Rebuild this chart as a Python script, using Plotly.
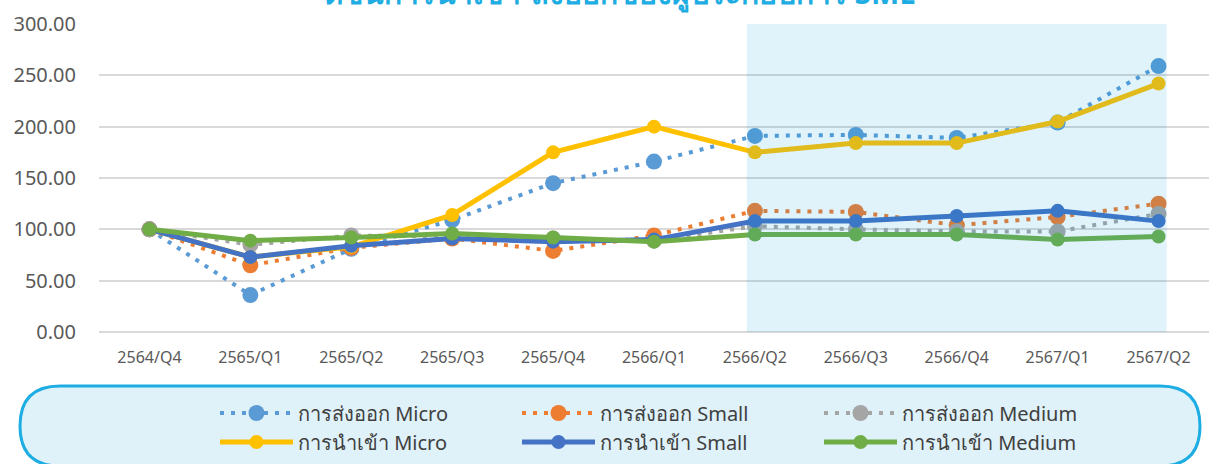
import plotly.graph_objects as go

categories = ["2564/Q4", "2565/Q1", "2565/Q2", "2565/Q3", "2565/Q4", "2566/Q1",
              "2566/Q2", "2566/Q3", "2566/Q4", "2567/Q1", "2567/Q2"]

export_micro = [100, 36, 81, 109, 145, 166, 191, 192, 189, 204, 259]
export_small = [100, 65, 82, 91, 79, 94, 118, 117, 104, 112, 125]
export_medium = [100, 85, 94, 93, 91, 89, 103, 100, 98, 98, 115]
import_micro = [100, 73, 83, 114, 175, 200, 175, 184, 184, 205, 242]
import_small = [100, 73, 84, 91, 88, 90, 108, 108, 113, 118, 108]
import_medium = [100, 89, 92, 96, 92, 88, 95, 95, 95, 90, 93]

series_names = ["การส่งออก Micro", "การส่งออก Small", "การส่งออก Medium",
                "การนำเข้า Micro", "การนำเข้า Small", "การนำเข้า Medium"]
series_values = [export_micro, export_small, export_medium,
                 import_micro, import_small, import_medium]
colors = ["#5B9BD5", "#ED7D31", "#A5A5A5", "#FFC000", "#4472C4", "#70AD47"]
dashes = ["4px,7px", "4px,7px", "4px,7px", "solid", "solid", "solid"]
widths = [4, 4, 4, 5, 5, 5]
msizes = [16, 16, 16, 14, 14, 14]
legend_ids = ["legend", "legend", "legend", "legend2", "legend2", "legend2"]

title_text = "ดัชนีการนำเข้า-ส่งออกของผู้ประกอบการ SME"

FONT = "Noto Sans, DejaVu Sans, sans-serif"

fig = go.Figure()
for name, vals, c, d, w, ms, lg in zip(series_names, series_values, colors, dashes,
                                        widths, msizes, legend_ids):
    fig.add_trace(go.Scatter(
        x=categories, y=vals, name=name, mode="lines+markers",
        line=dict(color=c, width=w, dash=d),
        marker=dict(color=c, size=ms), legend=lg,
    ))

W, H = 1209, 464
L, R, T, B = 99, 0, 24, 132
pw, ph = W - L - R, H - T - B

def px(x):
    return (x - L) / pw

def py(y):
    return (H - B - y) / ph

# legend pill box
x0, x1, y0, y1, r = 20, 1200, 386, 466, 40
path = (f"M {px(x0 + r)},{py(y0)} L {px(x1 - r)},{py(y0)} "
        f"Q {px(x1)},{py(y0)} {px(x1)},{py(y0 + r)} "
        f"Q {px(x1)},{py(y1)} {px(x1 - r)},{py(y1)} "
        f"L {px(x0 + r)},{py(y1)} "
        f"Q {px(x0)},{py(y1)} {px(x0)},{py(y0 + r)} "
        f"Q {px(x0)},{py(y0)} {px(x0 + r)},{py(y0)} Z")
fig.add_shape(type="path", path=path, xref="paper", yref="paper",
              fillcolor="#DFF1F9", line=dict(color="#1EADE3", width=3), layer="below")

# highlighted period
fig.add_shape(type="rect", xref="x", yref="y", x0=5.92, x1=10.08, y0=0, y1=300,
              fillcolor="rgba(0,160,220,0.12)", line=dict(width=0), layer="above")

fig.add_annotation(text="<b>" + title_text + "</b>", xref="paper", yref="paper",
                   x=px(620), y=py(15), xanchor="center", yanchor="bottom",
                   showarrow=False, font=dict(size=30, color="#1EADE3", family=FONT))

legend_common = dict(orientation="h", xref="container", yref="container",
                     x=215 / W, xanchor="left", yanchor="middle",
                     bgcolor="rgba(0,0,0,0)", entrywidth=214, entrywidthmode="pixels",
                     itemwidth=73, font=dict(size=20, color="#404040", family=FONT))

fig.update_layout(
    width=W, height=H,
    margin=dict(l=L, r=R, t=T, b=B, autoexpand=False),
    paper_bgcolor="white", plot_bgcolor="white",
    font=dict(family=FONT, color="#595959"),
    showlegend=True,
    legend=dict(legend_common, y=1 - 413 / H),
    legend2=dict(legend_common, y=1 - 442 / H),
    xaxis=dict(type="category", range=[-0.5, 10.5], showgrid=False, showline=False,
               tickfont=dict(size=16, color="#595959"), ticks="", ticklabelstandoff=14),
    yaxis=dict(range=[0, 300], dtick=50, tickformat=".2f", showgrid=True,
               gridcolor="#D9D9D9", gridwidth=1.5, zeroline=True, zerolinecolor="#D9D9D9",
               zerolinewidth=1.5, showline=False,
               tickfont=dict(size=20, color="#595959"), ticklabelstandoff=22),
)

fig.write_html("out.html", config={"displayModeBar": False},
               post_script="document.body.style.margin='0px';document.body.style.overflow='hidden';")
